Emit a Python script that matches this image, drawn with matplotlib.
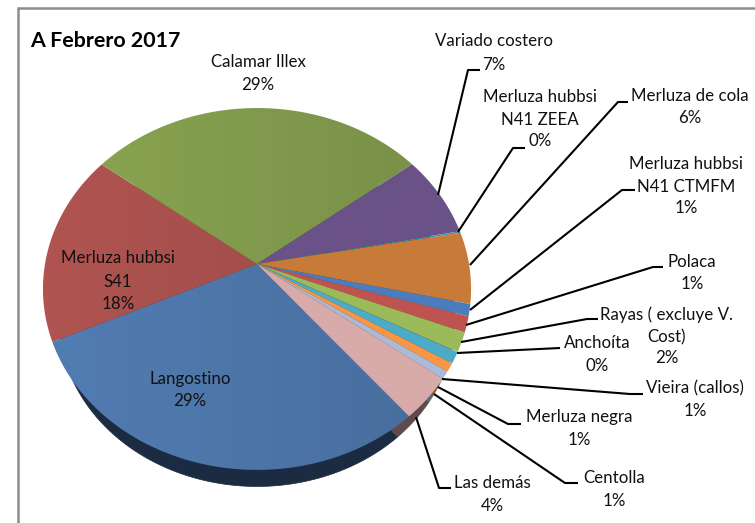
import numpy as np
import matplotlib
matplotlib.use('Agg')
import matplotlib.pyplot as plt
from matplotlib.patches import Polygon

# Datos (orden horario desde Langostino)
especies = ['Langostino', 'Merluza hubbsi\nS41', 'Calamar Illex', 'Variado costero',
            'Merluza hubbsi\nN41 ZEEA', 'Merluza de cola', 'Merluza hubbsi\nN41 CTMFM',
            'Polaca', 'Rayas ( excluye V.\nCost)', 'Anchoíta', 'Vieira (callos)',
            'Merluza negra', 'Centolla', 'Las demás']
valores = [29.3, 17.2, 29.2, 7.4, 0.15, 6.4, 1.06, 1.4, 1.7, 0.03, 1.0, 0.75, 0.67, 3.8]
etiquetas_pct = ['29%', '18%', '29%', '7%', '0%', '6%', '1%', '1%', '2%', '0%', '1%', '1%', '1%', '4%']
colores = ['#4c74a6', '#a34e4b', '#80994c', '#6a5288', '#3a8ea6', '#c87b38', '#4b7dbe',
           '#bf5350', '#9bbb59', '#b3a2c7', '#4bacc6', '#f79646', '#aabad7', '#d9aaaa']
colores_lado = ['#1a2b42', '#5a2a2a', '#4a5a2a', '#3a2c4c', '#1f5060', '#6e4420', '#2a4570',
                '#6a2d2c', '#566832', '#605670', '#2a6070', '#8a5428', '#5e6878', '#5f4b4b']

plt.rcParams['font.family'] = ['Lato', 'DejaVu Sans']

# Geometria de la torta en perspectiva (pixeles)
APEX_X, APEX_Y = 257, 264
R_X, R_Y, K = 212, 177.5, 0.138
INICIO = -50.1


def proyectar(t, escala=1.0, dy=0.0):
    """Pasa angulos del circulo a la elipse vista en perspectiva."""
    d = 1 + K * np.sin(t)
    x = APEX_X + escala * R_X * np.cos(t) / d
    y = APEX_Y + dy - escala * R_Y * np.sin(t) / d
    return x, y


def porcion(a0, a1, escala=1.0, dy=0.0):
    t = np.radians(np.linspace(a0, a1, 80))
    x, y = proyectar(t, escala, dy)
    cx, cy = APEX_X, APEX_Y + dy
    return np.column_stack([np.r_[cx, x], np.r_[cy, y]])


fig = plt.figure(figsize=(7.55, 5.23), dpi=100)
ax = fig.add_axes([0, 0, 1, 1])
ax.axis('off')

fracciones = np.array(valores) / np.sum(valores) * 360
bordes = INICIO - np.r_[0, np.cumsum(fracciones)]

# Lateral de la torta
for i in range(len(valores)):
    pts = porcion(bordes[i], bordes[i + 1], 0.925, 32)
    ax.add_patch(Polygon(pts, closed=True, fc=colores_lado[i], ec=colores_lado[i], lw=0.5, zorder=1))

# Cara superior: degradado en las porciones grandes, color plano en las chicas
for i in range(len(valores)):
    pts = porcion(bordes[i], bordes[i + 1])
    base = np.array(matplotlib.colors.to_rgb(colores[i]))
    if valores[i] > 10:
        f = np.linspace(1.08, 0.93, 256)[None, :, None]
    else:
        f = np.ones(256)[None, :, None]
    img = np.clip(base[None, None, :] * f, 0, 1)
    im = ax.imshow(img, extent=[43, 472, 487, 100], aspect='auto', zorder=2, interpolation='bilinear')
    pol = Polygon(pts, closed=True, fc='none', ec='none', transform=ax.transData)
    ax.add_patch(pol)
    im.set_clip_path(pol)

# Marco
ax.plot([755, 18, 18], [7.5, 7.5, 523], color='#8c8c8c', lw=1.8, zorder=1, solid_joinstyle='miter')

# Lineas guia
guias = {
    'Variado costero': [(438, 195), (468, 70), (480, 70)],
    'ZEEA': [(458, 232), (513, 148), (525, 148)],
    'cola': [(470, 265), (618, 102), (628, 102)],
    'CTMFM': [(470, 310), (622, 190), (635, 190)],
    'Polaca': [(466, 325), (653, 267), (663, 267)],
    'Rayas': [(461, 342), (587, 319), (598, 319)],
    'Anchoita': [(457, 353), (560, 348)],
    'Vieira': [(442, 379), (630, 394), (643, 394)],
    'Negra': [(438, 387), (508, 424), (521, 424)],
    'Centolla': [(434, 394), (565, 483), (578, 483)],
    'Demas': [(416, 417), (439, 488), (451, 488)],
}
for pts in guias.values():
    xs, ys = zip(*pts)
    ax.plot(xs, ys, color='black', lw=1.5, zorder=3, solid_capstyle='butt')

# Textos: (x centro, y de cada renglon)
pos_textos = [
    (190, [379, 401]),
    (118, [258, 282, 304]),
    (258, [62, 85]),
    (494, [41, 65]),
    (540, [97, 120, 141]),
    (690, [96, 118]),
    (686, [164, 187, 208]),
    (692, [262, 284]),
    (667, [315, 337, 358]),
    (597, [343, 366]),
    (695, [388, 411]),
    (579, [417, 440]),
    (614, [478, 501]),
    (492, [483, 506]),
]
for nombre, pct, (x, ys) in zip(especies, etiquetas_pct, pos_textos):
    for renglon, y in zip(nombre.split('\n') + [pct], ys):
        ax.text(x, y, renglon, ha='center', va='center', fontsize=12.2, color='#111111', zorder=4)

ax.text(30, 41, 'A Febrero 2017', ha='left', va='center', fontsize=15.4, fontweight='bold',
        color='black', zorder=4)

ax.set_xlim(0, 755)
ax.set_ylim(523, 0)
fig.savefig('out.png', dpi=100, facecolor='white')
